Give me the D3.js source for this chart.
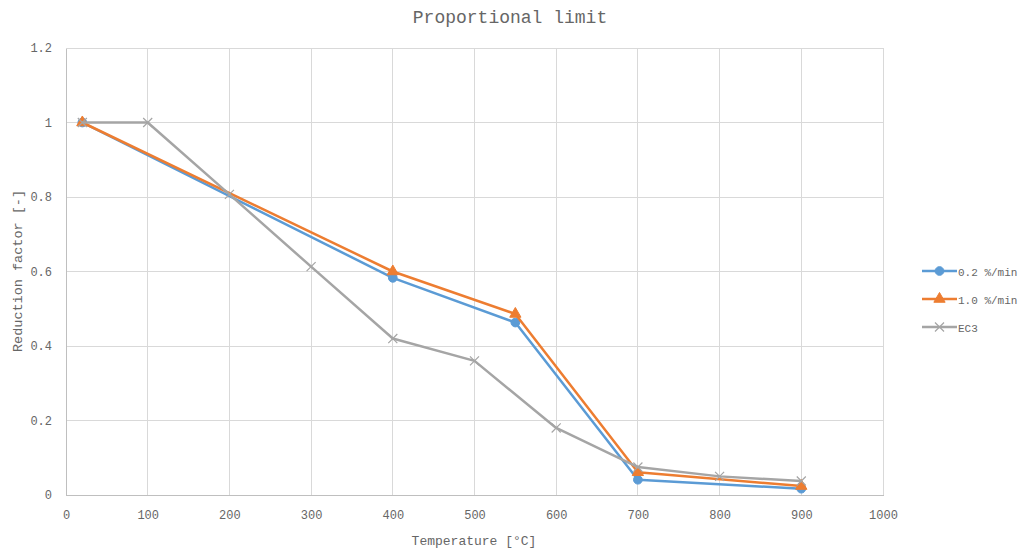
<!DOCTYPE html>
<html><head><meta charset="utf-8">
<script src="https://cdn.jsdelivr.net/npm/d3@7"></script>
<style>body{margin:0;background:#fff}svg{display:block}</style>
</head><body>
<svg id="c" width="1022" height="553"></svg>
<script>
const xTicks = [0,100,200,300,400,500,600,700,800,900,1000];
const yTicks = [0,0.2,0.4,0.6,0.8,1,1.2];
const yTickLabels = ["0","0.2","0.4","0.6","0.8","1","1.2"];
const seriesNames = ["0.2 %/min","1.0 %/min","EC3"];
const tempA = [20,400,550,700,900];
const valA  = [1.0,0.583,0.463,0.041,0.017];
const tempB = [20,400,550,700,900];
const valB  = [1.0,0.600,0.486,0.061,0.024];
const tempC = [20,100,200,300,400,500,600,700,800,900];
const valC  = [1.0,1.0,0.807,0.613,0.420,0.360,0.180,0.075,0.050,0.0375];

const colors = ["#5B9BD5","#ED7D31","#A5A5A5"];
const textColor = "#666666";
const font = "'Liberation Mono','DejaVu Sans Mono',monospace";
const svg = d3.select("#c");
const x = d3.scaleLinear().domain([0,1000]).range([66,883]);
const y = d3.scaleLinear().domain([0,1.2]).range([495,48]);

// grid
svg.append("g").selectAll("line").data(xTicks).join("line")
  .attr("x1",d=>x(d)).attr("x2",d=>x(d)).attr("y1",y(0)).attr("y2",y(1.2))
  .attr("stroke","#D9D9D9").attr("stroke-width",1).attr("shape-rendering","crispEdges");
svg.append("g").selectAll("line").data(yTicks).join("line")
  .attr("x1",x(0)).attr("x2",x(1000)).attr("y1",d=>y(d)).attr("y2",d=>y(d))
  .attr("stroke","#D9D9D9").attr("stroke-width",1).attr("shape-rendering","crispEdges");

// axes
const xAxis = svg.append("g").attr("transform",`translate(0,${y(0)})`)
  .call(d3.axisBottom(x).tickValues(xTicks).tickSize(0).tickPadding(15).tickFormat(d3.format("d")));
const yAxis = svg.append("g").attr("transform",`translate(${x(0)},0)`)
  .call(d3.axisLeft(y).tickValues(yTicks).tickSize(0).tickPadding(14).tickFormat((d,i)=>yTickLabels[i]));
[xAxis,yAxis].forEach(a=>{
  a.select(".domain").attr("stroke","#BFBFBF").attr("shape-rendering","crispEdges");
  a.selectAll("text").attr("fill",textColor).style("font-family",font).style("font-size","12px");
});

// titles
svg.append("text").attr("x",510).attr("y",23).attr("text-anchor","middle")
  .attr("fill",textColor).style("font-family",font).style("font-size","18px").text("Proportional limit");
svg.append("text").attr("x",474).attr("y",545).attr("text-anchor","middle")
  .attr("fill",textColor).style("font-family",font).style("font-size","13px").text("Temperature [°C]");
svg.append("text").attr("transform","translate(22,271) rotate(-90)").attr("text-anchor","middle")
  .attr("fill",textColor).style("font-family",font).style("font-size","13.5px").text("Reduction factor [-]");

const data = [
  tempA.map((t,i)=>[t,valA[i]]),
  tempB.map((t,i)=>[t,valB[i]]),
  tempC.map((t,i)=>[t,valC[i]])
];
const line = d3.line().x(d=>x(d[0])).y(d=>y(d[1]));
const symbols = [d3.symbolCircle, d3.symbolTriangle, d3.symbolX];
const sizes = [60, 55, 55];

function drawMarker(g, i, cx, cy){
  const p = d3.symbol().type(symbols[i]).size(sizes[i])();
  const m = g.append("path").attr("d",p).attr("transform",`translate(${cx},${cy})`);
  if(i===2) m.attr("fill","none").attr("stroke",colors[i]).attr("stroke-width",1.2);
  else m.attr("fill",colors[i]).attr("stroke",colors[i]).attr("stroke-width",1);
}

data.forEach((ds,i)=>{
  const g = svg.append("g");
  g.append("path").datum(ds).attr("d",line).attr("fill","none")
    .attr("stroke",colors[i]).attr("stroke-width",2.5).attr("stroke-linejoin","round");
  ds.forEach(d=>drawMarker(g,i,x(d[0]),y(d[1])));
});

// legend
const leg = svg.append("g");
seriesNames.forEach((n,i)=>{
  const ly = 271 + i*28;
  leg.append("line").attr("x1",922).attr("x2",957).attr("y1",ly).attr("y2",ly)
    .attr("stroke",colors[i]).attr("stroke-width",2.5);
  drawMarker(leg,i,939.5,ly);
  leg.append("text").attr("x",958).attr("y",ly+4.5).attr("fill",textColor)
    .style("font-family",font).style("font-size","11px").text(n);
});
</script>
</body></html>
